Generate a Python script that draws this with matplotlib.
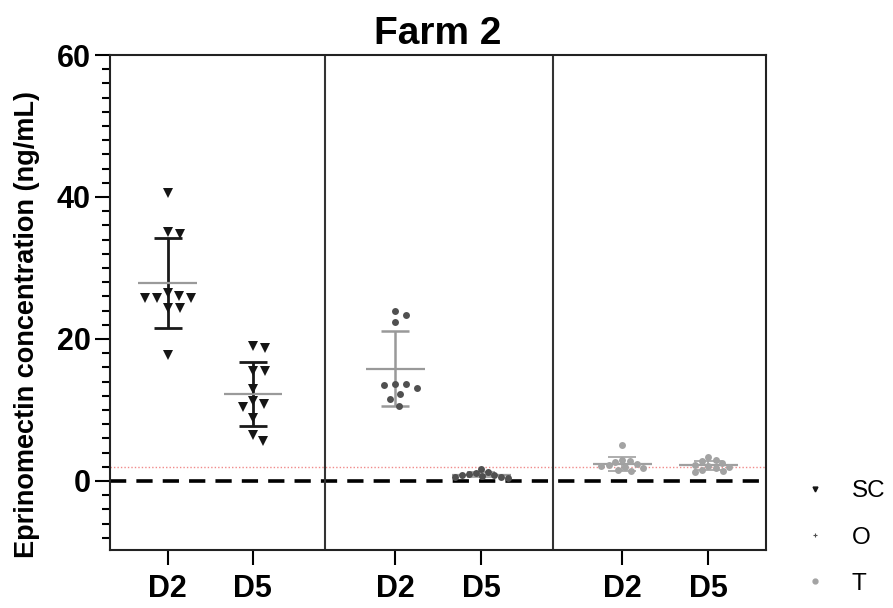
import numpy as np
import matplotlib
matplotlib.use("Agg")
import matplotlib.pyplot as plt
from matplotlib.lines import Line2D

plt.rcParams['font.family'] = ['Liberation Sans', 'DejaVu Sans']

# Eprinomectin plasma concentrations (ng/mL), Farm 2
routes = ["SC", "O", "T"]
days = ["D2", "D5"]
sc_d2 = [40.5, 35.0, 34.8, 26.5, 26.1, 25.8, 25.8, 25.8, 24.4, 24.4, 17.8]
sc_d5 = [19.0, 18.7, 15.5, 15.5, 13.0, 11.3, 10.8, 10.4, 8.9, 6.4, 5.6]
o_d2 = [24.0, 23.4, 22.4, 13.6, 13.6, 13.5, 13.1, 12.2, 11.5, 10.6]
o_d5 = [1.7, 1.3, 1.1, 1.0, 0.9, 0.8, 0.7, 0.6, 0.5, 0.4]
t_d2 = [5.0, 3.0, 2.8, 2.6, 2.4, 2.2, 2.1, 2.0, 1.8, 1.6, 1.4]
t_d5 = [3.3, 3.0, 2.8, 2.5, 2.3, 2.1, 2.0, 1.8, 1.6, 1.4, 1.2]
loq = 2.0

# layout of the three panels on one x axis
xpos = [0.67, 1.66, 3.32, 4.32, 5.96, 6.96]
dividers = [2.50, 5.15]

fig = plt.figure(figsize=(8.93, 6.08), dpi=100)
ax = fig.add_axes([0.1232, 0.0946, 0.7346, 0.8149])
ax.set_xlim(0, 7.63)
ax.set_ylim(-9.8, 60)


def swarm_x(vals, xc, d_px):
    # simple beeswarm in pixel space
    vals = np.asarray(vals, float)
    pts = ax.transData.transform(np.column_stack([np.full(len(vals), xc), vals]))
    x0 = pts[0, 0]
    placed = []
    off = np.zeros(len(vals))
    for i in np.argsort(-vals, kind="stable"):
        y = pts[i, 1]
        cands = [0.0]
        for px, py in placed:
            dy = abs(py - y)
            if dy < d_px:
                dx = np.sqrt(d_px ** 2 - dy ** 2)
                cands += [px + dx, px - dx]
        cands.sort(key=abs)
        for c in cands:
            if all((c - px) ** 2 + (y - py) ** 2 >= d_px ** 2 - 1e-6 for px, py in placed):
                break
        placed.append((c, y))
        off[i] = c
    back = ax.transData.inverted().transform(np.column_stack([x0 + off, pts[:, 1]]))
    return back[:, 0]


series = [sc_d2, sc_d5, o_d2, o_d5, t_d2, t_d5]
styles = [
    dict(marker="v", color="#151515", ms=6.5, ebc="#1a1a1a", elw=2.0, mc="#9a9a9a", d=12),
    dict(marker="v", color="#151515", ms=6.5, ebc="#1a1a1a", elw=2.0, mc="#9a9a9a", d=12),
    dict(marker="o", color="#505050", ms=5.0, ebc="#999999", elw=1.8, mc="#999999", d=11),
    dict(marker="o", color="#505050", ms=5.0, ebc="#999999", elw=1.2, mc="#999999", d=7),
    dict(marker="o", color="#a3a3a3", ms=5.0, ebc="#a0a0a0", elw=1.2, mc="#a0a0a0", d=7.5),
    dict(marker="o", color="#a3a3a3", ms=5.0, ebc="#a0a0a0", elw=1.2, mc="#a0a0a0", d=7.5),
]

for x, vals, st in zip(xpos, series, styles):
    m = np.mean(vals)
    sd = np.std(vals, ddof=1)
    ax.errorbar(x, m, yerr=sd, fmt="none", ecolor=st["ebc"], elinewidth=st["elw"],
                capsize=10, capthick=st["elw"], zorder=3)
    ax.hlines(m, x - 0.34, x + 0.34, color=st["mc"], lw=1.6, zorder=3)
    xs = swarm_x(vals, x, st["d"])
    ax.plot(xs, vals, linestyle="none", marker=st["marker"], color=st["color"],
            markersize=st["ms"], markeredgewidth=0, zorder=4)

ax.axhline(0, color="black", lw=2.6, ls=(0, (4.5, 2.8)), zorder=2)
ax.axhline(loq, color="#f08a8a", lw=1.0, ls=(0, (1, 1.5)), zorder=2)
for xd in dividers:
    ax.axvline(xd, color="#333333", lw=1.5, zorder=2)

ax.set_yticks([0, 20, 40, 60])
ax.set_yticks(np.arange(-8, 60, 2), minor=True)
ax.set_xticks(xpos)
ax.set_xticklabels(days * 3)
ax.tick_params(axis="both", which="major", labelsize=22, width=1.5, length=11, pad=3)
ax.tick_params(axis="y", which="minor", width=1.5, length=6)
ax.tick_params(axis="x", pad=6)
for lab in ax.get_xticklabels() + ax.get_yticklabels():
    lab.set_fontweight("bold")
for s in ax.spines.values():
    s.set_linewidth(1.5)
    s.set_color("#222222")

ax.set_ylabel("Eprinomectin concentration (ng/mL)", fontsize=19.5, fontweight="bold")
ax.yaxis.set_label_coords(-0.106, 0.457)
ax.set_title("Farm 2", fontsize=28, fontweight="bold", pad=8)

handles = [
    Line2D([], [], ls="none", marker="v", color="#151515", markersize=3.5),
    Line2D([], [], ls="none", marker="+", color="#505050", markersize=3.5, markeredgewidth=0.8),
    Line2D([], [], ls="none", marker="o", color="#a3a3a3", markersize=3.5),
]
fig.legend(handles, routes, loc="upper left", bbox_to_anchor=(0.899, 0.21),
           frameon=False, fontsize=17.5, handlelength=1.0, handletextpad=1.0,
           labelspacing=1.0, borderpad=0, borderaxespad=0)

fig.savefig("out.png", dpi=100)
